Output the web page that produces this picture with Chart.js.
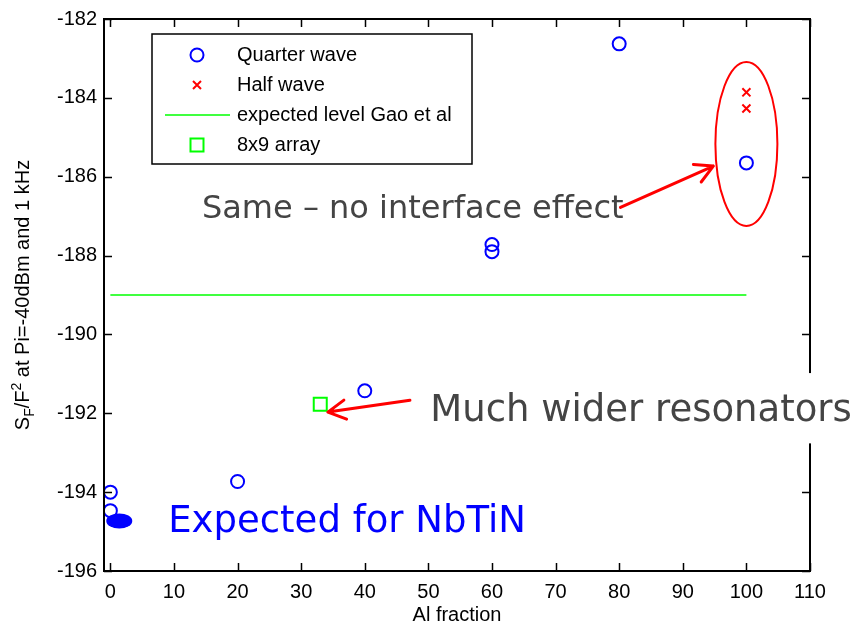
<!DOCTYPE html>
<html>
<head>
<meta charset="utf-8">
<title>Noise vs Al fraction</title>
<script src="https://cdn.jsdelivr.net/npm/chart.js@4.4.1/dist/chart.umd.min.js"></script>
<style>
    html, body { margin: 0; padding: 0; background: #fff; }
</style>
</head>
<body>
<canvas id="noiseChart" width="856" height="626"></canvas>
<script>
// measured noise points (x = Al fraction, y = S_F/F^2 in dB)
const quarterX = [0, 0, 20, 40, 60, 60, 80, 100];
const quarterY = [-194.0, -194.47, -193.73, -191.43, -187.72, -187.9, -182.63, -185.65];
const halfX = [100, 100];
const halfY = [-183.86, -184.27];
const gaoX = [0, 100];
const gaoY = [-189, -189];
const arrayX = [33];
const arrayY = [-191.77];
const nbtinX = [1.4];
const nbtinY = [-194.73];

const legendNames = ['Quarter wave', 'Half wave', 'expected level Gao et al', '8x9 array'];
const xTicks = [0, 10, 20, 30, 40, 50, 60, 70, 80, 90, 100, 110];
const yTicks = [-196, -194, -192, -190, -188, -186, -184, -182];

function pts(xs, ys){
    return xs.map((x, i) => ({x: x, y: ys[i]}));
}

const AXIS_FONT = '"Liberation Sans", Arial, sans-serif';
const NOTE_FONT = '"DejaVu Sans", Verdana, sans-serif';

// arrows, ellipses and notes, placed in data units (boxed = white backing)
const notes = [
    {text: 'Same \u2013 no interface effect', x: 14.4, y: -187.04, size: 32, color: '#444', boxed: false},
    {text: 'Much wider resonators', x: 50.3, y: -192.2, size: 37, color: '#444', boxed: true},
    {text: 'Expected for NbTiN', x: 9.1, y: -195.02, size: 37, color: '#0000ff', boxed: false}
];
const arrows = [
    {x0: 80.2, y0: -186.78, x1: 94.8, y1: -185.73},
    {x0: 47.1, y0: -191.67, x1: 34.2, y1: -191.97}
];

const framePlugin = {
    id: 'frame',
    afterDatasetsDraw(chart){
        const ctx = chart.ctx;
        const xs = chart.scales.x, ys = chart.scales.y;
        const a = chart.chartArea;
        ctx.save();

        // box + inward ticks on all four sides
        ctx.strokeStyle = '#000';
        ctx.lineWidth = 1.5;
        ctx.beginPath();
        xTicks.forEach(v => {
            const px = Math.round(xs.getPixelForValue(v)) + 0.5;
            ctx.moveTo(px, a.bottom); ctx.lineTo(px, a.bottom - 8);
            ctx.moveTo(px, a.top); ctx.lineTo(px, a.top + 8);
        });
        yTicks.forEach(v => {
            const py = Math.round(ys.getPixelForValue(v)) + 0.5;
            ctx.moveTo(a.left, py); ctx.lineTo(a.left + 8, py);
            ctx.moveTo(a.right, py); ctx.lineTo(a.right - 8, py);
        });
        ctx.stroke();
        ctx.lineWidth = 2;
        ctx.strokeRect(a.left, a.top, a.right - a.left, a.bottom - a.top);

        // filled ellipse for NbTiN expectation
        ctx.fillStyle = '#0000ff';
        ctx.beginPath();
        ctx.ellipse(xs.getPixelForValue(nbtinX[0]), ys.getPixelForValue(nbtinY[0]), 13, 7.5, 0, 0, Math.PI * 2);
        ctx.fill();

        // red ring round the x=100 points
        ctx.strokeStyle = '#ff0000';
        ctx.lineWidth = 2;
        ctx.beginPath();
        ctx.ellipse(xs.getPixelForValue(100), ys.getPixelForValue(-185.17), 31, 82, 0, 0, Math.PI * 2);
        ctx.stroke();

        // text notes
        ctx.textAlign = 'left';
        ctx.textBaseline = 'alphabetic';
        notes.forEach(n => {
            const tx = xs.getPixelForValue(n.x), ty = ys.getPixelForValue(n.y);
            ctx.font = n.size + 'px ' + NOTE_FONT;
            if (n.boxed) {
                const w = ctx.measureText(n.text).width;
                ctx.fillStyle = '#fff';
                ctx.fillRect(tx - 8, ty - n.size * 1.3, w + 16, n.size * 1.9);
            }
            ctx.fillStyle = n.color;
            ctx.fillText(n.text, tx, ty);
        });

        // arrows
        ctx.strokeStyle = '#ff0000';
        ctx.lineWidth = 3;
        ctx.lineCap = 'round';
        arrows.forEach(ar => {
            const px0 = xs.getPixelForValue(ar.x0), py0 = ys.getPixelForValue(ar.y0);
            const px1 = xs.getPixelForValue(ar.x1), py1 = ys.getPixelForValue(ar.y1);
            const back = Math.atan2(py0 - py1, px0 - px1);
            ctx.beginPath();
            ctx.moveTo(px0, py0);
            ctx.lineTo(px1, py1);
            [-0.5, 0.5].forEach(d => {
                ctx.moveTo(px1, py1);
                ctx.lineTo(px1 + 20 * Math.cos(back + d), py1 + 20 * Math.sin(back + d));
            });
            ctx.stroke();
        });
        ctx.lineCap = 'butt';

        // legend
        const lx = 152, ly = 34, lw = 320, lh = 130;
        ctx.fillStyle = '#fff';
        ctx.fillRect(lx, ly, lw, lh);
        ctx.strokeStyle = '#000';
        ctx.lineWidth = 1.5;
        ctx.strokeRect(lx, ly, lw, lh);
        const rows = [55, 85, 115, 145];
        const mx = 197;
        ctx.lineWidth = 2;
        ctx.strokeStyle = '#0000ff';
        ctx.beginPath(); ctx.arc(mx, rows[0], 6.5, 0, Math.PI * 2); ctx.stroke();
        ctx.strokeStyle = '#ff0000';
        ctx.beginPath();
        ctx.moveTo(mx - 4, rows[1] - 4); ctx.lineTo(mx + 4, rows[1] + 4);
        ctx.moveTo(mx + 4, rows[1] - 4); ctx.lineTo(mx - 4, rows[1] + 4);
        ctx.stroke();
        ctx.lineWidth = 1.5;
        ctx.strokeStyle = '#00ff00';
        ctx.beginPath(); ctx.moveTo(165, rows[2]); ctx.lineTo(230, rows[2]); ctx.stroke();
        ctx.lineWidth = 2;
        ctx.strokeRect(mx - 6.5, rows[3] - 6.5, 13, 13);
        ctx.fillStyle = '#000';
        ctx.font = '20px ' + AXIS_FONT;
        ctx.textBaseline = 'middle';
        legendNames.forEach((t, i) => ctx.fillText(t, 237, rows[i]));

        // axis titles
        ctx.textBaseline = 'alphabetic';
        ctx.textAlign = 'center';
        ctx.fillText('Al fraction', (a.left + a.right) / 2, 621);

        // y title with sub/superscript, rotated
        const parts = [
            {t: 'S', f: 20, dy: 0},
            {t: 'F', f: 14, dy: 5},
            {t: '/F', f: 20, dy: 0},
            {t: '2', f: 14, dy: -8},
            {t: ' at Pi=-40dBm and 1 kHz', f: 20, dy: 0}
        ];
        let total = 0;
        parts.forEach(p => { ctx.font = p.f + 'px ' + AXIS_FONT; p.w = ctx.measureText(p.t).width; total += p.w; });
        ctx.translate(29, (a.top + a.bottom) / 2);
        ctx.rotate(-Math.PI / 2);
        ctx.textAlign = 'left';
        let cx = -total / 2;
        parts.forEach(p => {
            ctx.font = p.f + 'px ' + AXIS_FONT;
            ctx.fillText(p.t, cx, p.dy);
            cx += p.w;
        });
        ctx.restore();
    }
};

addEventListener('load', function(){
    const ctx = document.getElementById('noiseChart').getContext('2d');
    new Chart(ctx, {
        type: 'scatter',
        data: {
            datasets: [{
                label: legendNames[0],
                data: pts(quarterX, quarterY),
                pointStyle: 'circle',
                pointRadius: 6.5,
                pointBorderWidth: 2,
                borderColor: '#0000ff',
                backgroundColor: 'rgba(0,0,0,0)'
            }, {
                label: legendNames[1],
                data: pts(halfX, halfY),
                pointStyle: 'crossRot',
                pointRadius: 5.7,
                pointBorderWidth: 2,
                borderColor: '#ff0000',
                backgroundColor: 'rgba(0,0,0,0)'
            }, {
                label: legendNames[2],
                data: pts(gaoX, gaoY),
                showLine: true,
                pointRadius: 0,
                borderWidth: 1.5,
                borderColor: '#00ff00'
            }, {
                label: legendNames[3],
                data: pts(arrayX, arrayY),
                pointStyle: 'rect',
                pointRadius: 9.2,
                pointBorderWidth: 2,
                borderColor: '#00ff00',
                backgroundColor: 'rgba(0,0,0,0)'
            }]
        },
        options: {
            responsive: false,
            animation: false,
            devicePixelRatio: 1,
            layout: { padding: { top: 15, right: 46, left: 0, bottom: 0 } },
            plugins: {
                legend: { display: false },
                tooltip: { enabled: false }
            },
            scales: {
                x: {
                    type: 'linear',
                    min: -1,
                    max: 110,
                    afterBuildTicks: s => { s.ticks = xTicks.map(v => ({value: v})); },
                    afterFit: s => { s.height = 55; },
                    grid: { display: false, drawTicks: false },
                    border: { display: false },
                    ticks: { padding: 9, color: '#000', font: { family: AXIS_FONT, size: 20 } }
                },
                y: {
                    min: -196,
                    max: -182,
                    afterBuildTicks: s => { s.ticks = yTicks.map(v => ({value: v})); },
                    afterFit: s => { s.width = 104; },
                    grid: { display: false, drawTicks: false },
                    border: { display: false },
                    ticks: { padding: 7, color: '#000', font: { family: AXIS_FONT, size: 20 } }
                }
            }
        },
        plugins: [framePlugin]
    });
});
</script>
</body>
</html>
